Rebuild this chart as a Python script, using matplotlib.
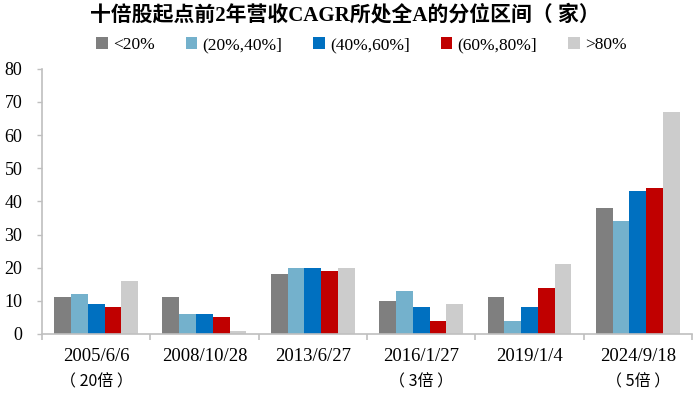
import matplotlib
matplotlib.use("Agg")
import matplotlib.pyplot as plt
import numpy as np

# data
dates = ["2005/6/6", "2008/10/28", "2013/6/27", "2016/1/27", "2019/1/4", "2024/9/18"]
notes = ["（ 20倍 ）", "", "", "（ 3倍 ）", "", "（ 5倍 ）"]
bins = ["<20%", "(20%,40%]", "(40%,60%]", "(60%,80%]", ">80%"]
lt20 = [11, 11, 18, 10, 11, 38]
b20_40 = [12, 6, 20, 13, 4, 34]
b40_60 = [9, 6, 20, 8, 8, 43]
b60_80 = [8, 5, 19, 4, 14, 44]
gt80 = [16, 1, 20, 9, 21, 67]

colors = ["#7f7f7f", "#74b1cc", "#0070c0", "#c00000", "#cccccc"]
serif = ["Liberation Serif", "Noto Sans CJK SC"]
cjk = ["Noto Sans CJK SC", "DejaVu Sans"]
axis_grey = "#bfbfbf"

fig = plt.figure(figsize=(6.99, 3.98), dpi=100)
ax = fig.add_axes([0.060, 0.161, 0.930, 0.666])

x = np.arange(len(dates))
w = 0.155
series = [lt20, b20_40, b40_60, b60_80, gt80]
for i, (vals, c, lab) in enumerate(zip(series, colors, bins)):
    ax.bar(x + (i - 2) * w, vals, w, color=c, label=lab)

ax.set_xlim(-0.5, len(dates) - 0.5)
ax.set_ylim(0, 80)
ax.set_yticks(range(0, 81, 10))
ax.tick_params(axis="y", length=3.5, color=axis_grey, width=1, pad=10.5, labelsize=13)
for t in ax.get_yticklabels():
    t.set_family(serif)

ax.set_xticks(x)
ax.set_xticklabels(dates, family=serif, fontsize=13.5)
ax.set_xticks(np.arange(-0.5, len(dates)), minor=True)
ax.tick_params(axis="x", which="major", length=0, pad=10)
ax.tick_params(axis="x", which="minor", length=4.5, color=axis_grey, width=1.2)

for s in ["top", "right"]:
    ax.spines[s].set_visible(False)
for s in ["bottom", "left"]:
    ax.spines[s].set_color(axis_grey)
    ax.spines[s].set_linewidth(1.2)

for xi, n in zip(x, notes):
    if n:
        ax.text(xi, -14.5, n, ha="center", va="center", fontsize=11.5, family=cjk,
                transform=ax.transData, clip_on=False)

fig.text(0.493, 0.962, "十倍股起点前2年营收CAGR所处全A的分位区间（ 家）", ha="center", va="center",
         fontsize=15, fontweight="bold", family=serif)
fig.legend(loc="center", bbox_to_anchor=(0.517, 0.887), ncol=5, frameon=False,
           handlelength=0.65, handleheight=0.65, handletextpad=0.3, columnspacing=1.8,
           prop={"family": serif, "size": 12.5})

fig.savefig("out.png", dpi=100)
